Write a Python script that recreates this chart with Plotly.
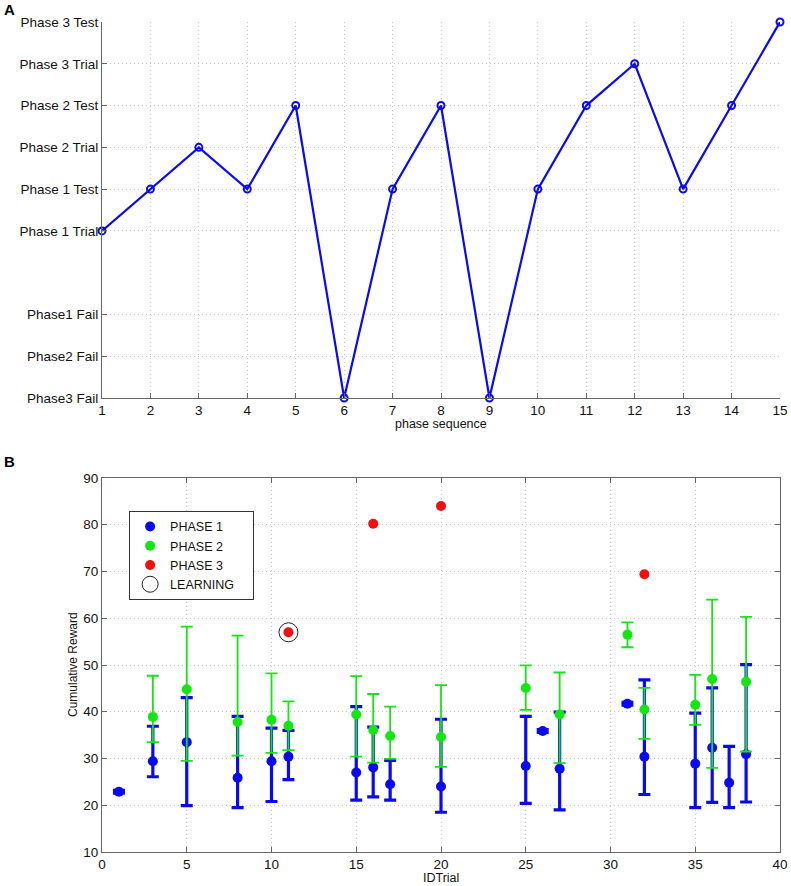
import plotly.graph_objects as go

# ---------------- Panel A data ----------------
seq_x = list(range(1, 16))
seq_levels = [4, 5, 6, 5, 7, 0, 5, 7, 0, 5, 7, 8, 5, 7, 9]
level_vals = [0, 1, 2, 4, 5, 6, 7, 8, 9]
level_labels = ["Phase3 Fail", "Phase2 Fail", "Phase1 Fail", "Phase 1 Trial",
                "Phase 1 Test", "Phase 2 Trial", "Phase 2 Test", "Phase 3 Trial",
                "Phase 3 Test"]

# ---------------- Panel B data ----------------
p1_x = [1, 3, 5, 8, 10, 11, 15, 16, 17, 20, 25, 26, 27, 31, 32, 35, 36, 37, 38]
p1_y = [22.9, 29.4, 33.5, 25.9, 29.4, 30.4, 27.0, 28.1, 24.5, 24.0, 28.4, 35.9, 27.8, 41.7, 30.4, 28.9, 32.3, 24.8, 30.9]
p1_hi = [23.2, 36.9, 43.0, 39.0, 36.5, 36.0, 41.1, 36.7, 29.6, 38.4, 39.0, 36.2, 39.9, 42.0, 46.8, 39.7, 45.1, 32.6, 50.1]
p1_lo = [22.6, 26.1, 19.9, 19.5, 20.8, 25.5, 21.1, 21.8, 21.1, 18.5, 20.4, 35.6, 19.0, 41.4, 22.3, 19.5, 20.6, 19.5, 20.7]

p2_x = [3, 5, 8, 10, 11, 15, 16, 17, 20, 25, 27, 31, 32, 35, 36, 38]
p2_y = [38.9, 44.8, 37.8, 38.3, 37.0, 39.4, 36.1, 34.8, 34.6, 45.1, 39.4, 56.5, 40.5, 41.5, 47.0, 46.4]
p2_hi = [47.7, 58.2, 56.3, 48.2, 42.2, 47.6, 43.8, 41.1, 45.7, 49.9, 48.4, 59.1, 45.1, 47.9, 64.0, 60.3]
p2_lo = [33.5, 29.5, 30.6, 31.2, 31.8, 30.4, 29.1, 29.9, 28.2, 40.4, 29.0, 53.8, 34.2, 37.2, 28.0, 31.5]

p3_x = [11, 16, 20, 32]
p3_y = [57.0, 80.2, 84.0, 69.4]

learn_x = [11]
learn_y = [57.0]

x_ticks_b = [0, 5, 10, 15, 20, 25, 30, 35, 40]
y_ticks_b = [10, 20, 30, 40, 50, 60, 70, 80, 90]

BLUE = "#0a0af0"
GREEN = "#14e614"
RED = "#f01010"
FONT = "Liberation Sans, Arial, sans-serif"

fig = go.Figure()

# Panel A
fig.add_trace(go.Scatter(
    x=seq_x, y=seq_levels, mode="lines+markers",
    line=dict(color=BLUE, width=2.2),
    marker=dict(symbol="circle-open", size=7, color=BLUE, line=dict(width=2, color=BLUE)),
    xaxis="x", yaxis="y", showlegend=False, cliponaxis=False))

# Panel B
def err(y, hi, lo):
    return [h - v for v, h in zip(y, hi)], [v - l for v, l in zip(y, lo)]

u1, m1 = err(p1_y, p1_hi, p1_lo)
u2, m2 = err(p2_y, p2_hi, p2_lo)

fig.add_trace(go.Scatter(
    x=p1_x, y=p1_y, mode="markers",
    marker=dict(color=BLUE, size=10),
    error_y=dict(type="data", symmetric=False, array=u1, arrayminus=m1,
                 color=BLUE, thickness=3.2, width=6),
    xaxis="x2", yaxis="y2", showlegend=False))

fig.add_trace(go.Scatter(
    x=p2_x, y=p2_y, mode="markers",
    marker=dict(color=GREEN, size=10),
    error_y=dict(type="data", symmetric=False, array=u2, arrayminus=m2,
                 color=GREEN, thickness=1.8, width=6),
    xaxis="x2", yaxis="y2", showlegend=False))

fig.add_trace(go.Scatter(
    x=p3_x, y=p3_y, mode="markers",
    marker=dict(color=RED, size=10),
    xaxis="x2", yaxis="y2", showlegend=False))

fig.add_trace(go.Scatter(
    x=learn_x, y=learn_y, mode="markers",
    marker=dict(symbol="circle-open", size=19, color="#222", line=dict(width=1, color="#222")),
    xaxis="x2", yaxis="y2", showlegend=False))

# legend proxies
for name, mk in [("PHASE 1", dict(color=BLUE, size=10)),
                 ("PHASE 2", dict(color=GREEN, size=10)),
                 ("PHASE 3", dict(color=RED, size=10)),
                 ("LEARNING&nbsp;&nbsp;&nbsp;&nbsp;", dict(symbol="circle-open", size=16, color="#222",
                                   line=dict(width=1, color="#222")))]:
    fig.add_trace(go.Scatter(x=[None], y=[None], mode="markers", marker=mk,
                             name=name, xaxis="x2", yaxis="y2", showlegend=True))

AX = "#666"
GRID = "#c4c4c4"
GD = "1px,3px"
tickfont = dict(family=FONT, size=13.5, color="#111")

common = dict(ticks="inside", ticklen=5, tickcolor=AX, showline=True, linecolor=AX,
              linewidth=1, showgrid=True, gridcolor=GRID, griddash=GD, gridwidth=1,
              zeroline=False, tickfont=tickfont, automargin=False)

fig.update_layout(
    template="none",
    width=791, height=886,
    margin=dict(l=102, r=11, t=22, b=34, autoexpand=False),
    paper_bgcolor="white", plot_bgcolor="white",
    font=dict(family=FONT, color="#111"),
    xaxis=dict(domain=[0, 1], anchor="y", range=[1, 15], tickvals=seq_x,
               mirror=False, **common),
    yaxis=dict(domain=[0.547, 1], anchor="x", range=[0, 9], tickvals=level_vals,
               ticktext=level_labels, mirror=False, **common),
    xaxis2=dict(domain=[0, 1], anchor="y2", range=[0, 40], tickvals=x_ticks_b,
                mirror="ticks", **common),
    yaxis2=dict(domain=[0, 0.4506], anchor="x2", range=[10, 90], tickvals=y_ticks_b,
                mirror="ticks", **common),
    legend=dict(x=0.04, y=0.411, xanchor="left", yanchor="top",
                bgcolor="white", bordercolor="#333", borderwidth=1,
                font=dict(family=FONT, size=12.5, color="#111"),
                itemsizing="trace", tracegroupgap=0),
)

plot_h = 886 - 22 - 34
plot_w = 791 - 102 - 11

def px_to_paper(xp, yp):
    return (xp - 102) / plot_w, (886 - 34 - yp) / plot_h

def label(text, xp, yp, size, angle=0, color="#111"):
    x, y = px_to_paper(xp, yp)
    fig.add_annotation(text=text, x=x, y=y, xref="paper", yref="paper",
                       xanchor="center", yanchor="middle", showarrow=False,
                       textangle=angle, font=dict(family=FONT, size=size, color=color))

label("<b>A</b>", 9, 10, 15, color="#000")
label("<b>B</b>", 9, 462, 15, color="#000")
label("phase sequence", 441, 424, 12.5)
label("IDTrial", 441, 878, 12.5)
label("Cumulative Reward", 73, 665, 12, angle=-90)

fig.write_html("out.html",
               config={"displayModeBar": False},
               post_script="document.body.style.margin='0';document.body.style.overflow='hidden';")
